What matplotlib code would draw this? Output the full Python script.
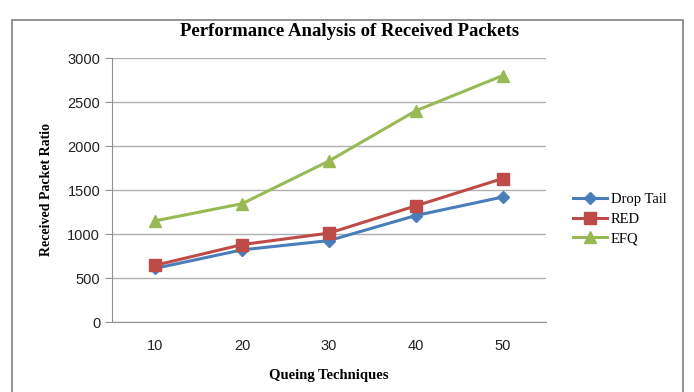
import matplotlib
matplotlib.use("Agg")
import matplotlib.pyplot as plt
from matplotlib.patches import Rectangle

categories = ["10", "20", "30", "40", "50"]
drop_tail = [610, 820, 925, 1210, 1420]
red = [645, 880, 1010, 1320, 1630]
efq = [1150, 1345, 1830, 2400, 2800]
yticks = [0, 500, 1000, 1500, 2000, 2500, 3000]

W, H = 694, 392
fig = plt.figure(figsize=(W / 100, H / 100), dpi=100)
ax = fig.add_axes([112 / W, 1 - 322 / H, (546 - 112) / W, (322 - 58) / H])

x = list(range(len(categories)))
ax.plot(x, drop_tail, color="#4A7EBB", lw=2.2, marker="D", ms=6, label="Drop Tail", zorder=3)
ax.plot(x, red, color="#BE4B48", lw=2.2, marker="s", ms=8, label="RED", zorder=3)
ax.plot(x, efq, color="#98B954", lw=2.2, marker="^", ms=9, label="EFQ", zorder=3)

ax.set_xlim(-0.5, 4.5)
ax.set_ylim(0, 3000)
ax.set_xticks(x)
ax.set_xticklabels(categories)
ax.set_yticks(yticks)
ax.yaxis.grid(True, color="#B0B0B0", lw=1)
ax.set_axisbelow(True)
for s in ["top", "right"]:
    ax.spines[s].set_visible(False)
for s in ["left", "bottom"]:
    ax.spines[s].set_color("#909090")
ax.tick_params(axis="x", length=0, pad=12, labelsize=10.5, colors="#222222")
ax.tick_params(axis="y", length=5, color="#909090", labelsize=10.5, colors="#222222")
for lbl in ax.get_xticklabels() + ax.get_yticklabels():
    lbl.set_fontfamily("Liberation Sans")

serif = "Liberation Serif"
ax.set_xlabel("Queing Techniques", fontfamily=serif, fontweight="bold", fontsize=10.5, labelpad=12)
ax.set_ylabel("Received Packet Ratio", fontfamily=serif, fontweight="bold", fontsize=10, labelpad=10)
fig.text(350 / W, 1 - 31 / H, "Performance Analysis of Received Packets", ha="center", va="center",
         fontfamily=serif, fontweight="bold", fontsize=13.5)

fig.legend(loc="center left", bbox_to_anchor=(560 / W, 1 - 219 / H), frameon=False,
           prop={"family": serif, "size": 10.5}, handlelength=2.3, handletextpad=0.3,
           labelspacing=0.45)

fig.patches.append(Rectangle((12 / W, -0.05), (683 - 12) / W, 1.05 - 20 / H,
                             transform=fig.transFigure, fill=False, edgecolor="#808080", lw=1.2))

fig.savefig("out.png", dpi=100)
